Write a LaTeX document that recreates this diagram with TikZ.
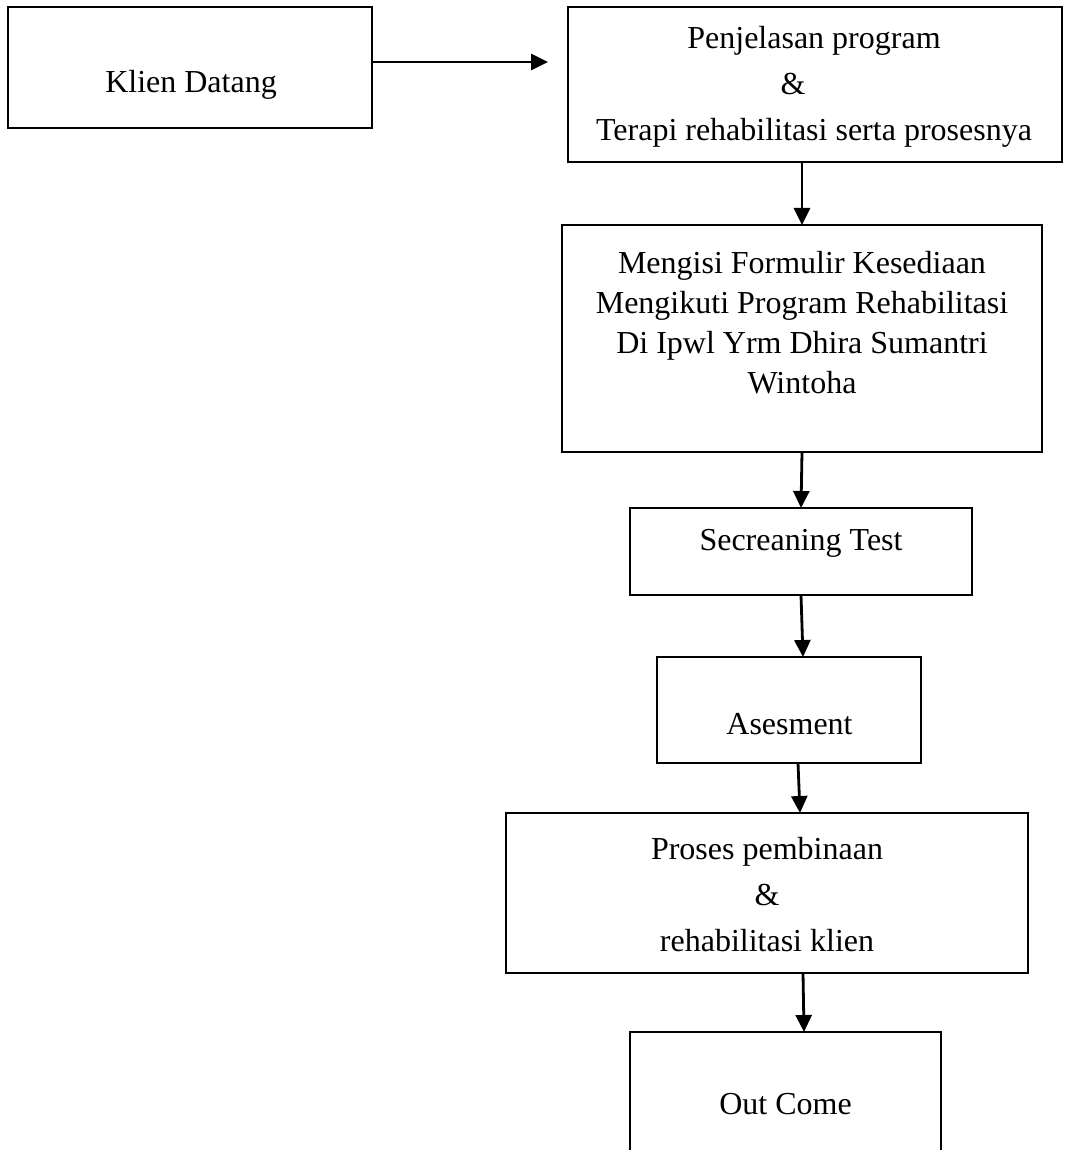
\documentclass[tikz,border=0pt]{standalone}
\usepackage{fontspec}
\setmainfont{Liberation Serif}
\usepackage{tikz}
\usetikzlibrary{arrows.meta,positioning,calc}
\tikzset{flowbox/.style={draw=black,line width=1pt,inner sep=0pt,outer sep=0pt},
 flowtext/.style={align=center,inner sep=0pt,font=\fontsize{16pt}{23pt}\selectfont},
 flowarr/.style={-{Triangle[length=8.5pt,width=8pt]},line width=1.4pt,draw=black}}

\begin{document}
\begin{tikzpicture}[x=0.5pt,y=-0.5pt]
\useasboundingbox (0,0) rectangle (1066,1150);
\clip (0,0) rectangle (1066,1150);
% boxes
\node[flowbox,minimum width=182pt,minimum height=60.5pt] (klien) at (190,67.5) {};
\node[flowbox,minimum width=247pt,minimum height=77.5pt] (penjelasan) at (815,84.5) {};
\node[flowbox,minimum width=240pt,minimum height=113.5pt] (mengisi) at (802,338.5) {};
\node[flowbox,minimum width=171pt,minimum height=43.5pt] (secreaning) at (801,551.5) {};
\node[flowbox,minimum width=132pt,minimum height=53pt] (asesment) at (789,710) {};
\node[flowbox,minimum width=261pt,minimum height=80pt] (proses) at (767,893) {};
\node[flowbox,minimum width=155.5pt,minimum height=79pt] (outcome) at (785.5,1111) {};
% texts
\node[flowtext] (klientext) at (191,84.5) {Klien Datang};
\node[flowtext] (penjtext) at (814,86.5) {Penjelasan program\\\&\rule{21pt}{0pt}\\Terapi rehabilitasi serta prosesnya};
\node[flowtext,font=\fontsize{16pt}{20pt}\selectfont] (mengtext) at (802,323)
 {Mengisi Formulir Kesediaan\\Mengikuti Program Rehabilitasi\\Di Ipwl Yrm Dhira Sumantri\\Wintoha};
\node[flowtext] (secrtext) at (801,543) {Secreaning Test};
\node[flowtext] (asestext) at (789.5,724) {Asesment};
\node[flowtext] (prostext) at (767,895) {Proses pembinaan\\\&\\rehabilitasi klien};
\node[flowtext] (outtext) at (785.5,1104) {Out Come};
% arrows
\draw[flowarr] ($(klien.east)+(0,2.75pt)$) -- ($(klien.east -| penjelasan.west)+(-10pt,2.75pt)$);
\draw[flowarr] (penjelasan.south -| mengisi.north) -- (mengisi.north);
\draw[flowarr] (mengisi.south) -- (secreaning.north);
\draw[flowarr] (secreaning.south) -- ($(secreaning.south |- asesment.north)+(1pt,0)$);
\draw[flowarr] ($(asesment.south)+(4.5pt,0)$) -- ($(proses.north)+(16.5pt,0)$);
\draw[flowarr] ($(proses.south)+(18pt,0)$) -- ($(outcome.north)+(9.25pt,0)$);
\end{tikzpicture}
\end{document}
